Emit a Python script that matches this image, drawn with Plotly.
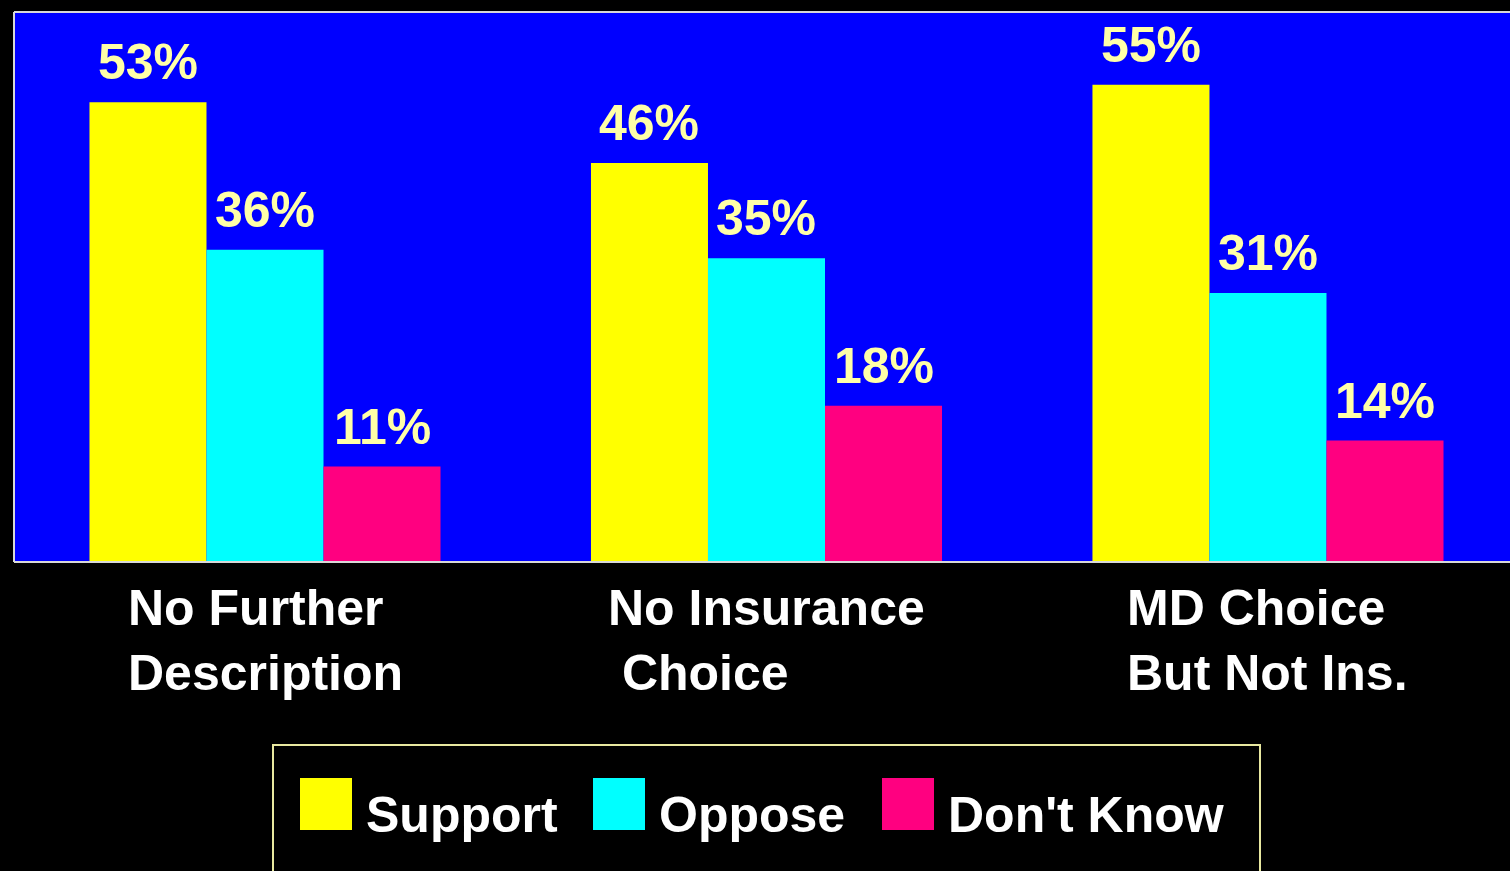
import plotly.graph_objects as go

# Survey results by scenario
categories = ["No Further<br>Description", "No Insurance<br>&nbsp;Choice", "MD Choice<br>But Not Ins."]
series_names = ["Support", "Oppose", "Don't Know"]
support = [53, 46, 55]
oppose = [36, 35, 31]
dont_know = [11, 18, 14]
series_values = [support, oppose, dont_know]
series_colors = ["#FFFF00", "#00FFFF", "#FF0080"]

W, H = 1510, 871
ML, MR, MT, MB = 14, 0, 12, 309
PW, PH = W - ML - MR, H - MT - MB
BARGAP = 0.30
FONT = "Liberation Sans, Arial, Helvetica, sans-serif"


def pxx(x):
    return (x - ML) / PW


def pxy(y):
    return (H - MB - y) / PH


xs = list(range(len(categories)))
fig = go.Figure()
for name, vals, col in zip(series_names, series_values, series_colors):
    fig.add_trace(go.Bar(x=xs, y=vals, name=name, marker=dict(color=col, line=dict(width=0)),
                         showlegend=False, hoverinfo="skip"))

annotations = []
# value labels above each bar
n = len(series_names)
w = (1 - BARGAP) / n
for i, vals in enumerate(series_values):
    for j, v in enumerate(vals):
        annotations.append(dict(x=j + (i - (n - 1) / 2) * w, y=v, xref="x", yref="y",
                                text=f"{v}%", showarrow=False, yanchor="bottom", yshift=10,
                                font=dict(family=FONT, size=50, color="#FFFFA8", weight="bold")))

# category labels under the plot
for j, c in enumerate(categories):
    annotations.append(dict(x=j, y=pxy(578), xref="x", yref="paper", text=c, showarrow=False,
                            xanchor="center", yanchor="top", align="left",
                            font=dict(family=FONT, size=50, color="white", weight="bold")))

shapes = [
    # plot frame (left, top, bottom)
    dict(type="line", xref="paper", yref="paper", x0=0, x1=0, y0=0, y1=1, line=dict(color="#D8D8D8", width=2)),
    dict(type="line", xref="paper", yref="paper", x0=0, x1=1, y0=1, y1=1, line=dict(color="#D8D8D8", width=2)),
    dict(type="line", xref="paper", yref="paper", x0=0, x1=1, y0=0, y1=0, line=dict(color="#D8D8D8", width=2)),
    # legend box
    dict(type="rect", xref="paper", yref="paper", x0=pxx(273), x1=pxx(1260), y0=pxy(890), y1=pxy(745),
         line=dict(color="#E8E8A0", width=2), fillcolor="rgba(0,0,0,0)"),
]

# legend entries
swatch_x = [300, 593, 882]
for sx, name, col in zip(swatch_x, series_names, series_colors):
    shapes.append(dict(type="rect", xref="paper", yref="paper", x0=pxx(sx), x1=pxx(sx + 52),
                       y0=pxy(830), y1=pxy(778), line=dict(width=0), fillcolor=col))
    annotations.append(dict(x=pxx(sx + 64), y=pxy(815), xref="paper", yref="paper", text=name,
                            showarrow=False, xanchor="left", yanchor="middle",
                            font=dict(family=FONT, size=50, color="white", weight="bold")))

fig.update_layout(
    width=W, height=H,
    margin=dict(l=ML, r=MR, t=MT, b=MB),
    paper_bgcolor="black", plot_bgcolor="#0000FF",
    barmode="group", bargap=BARGAP, bargroupgap=0,
    xaxis=dict(range=[-0.5005, 2.4826], showticklabels=False, showgrid=False, zeroline=False,
               showline=False, ticks=""),
    yaxis=dict(range=[0, 63.4], showticklabels=False, showgrid=False, zeroline=False,
               showline=False, ticks=""),
    annotations=annotations, shapes=shapes,
)

fig.write_html("out.html")
